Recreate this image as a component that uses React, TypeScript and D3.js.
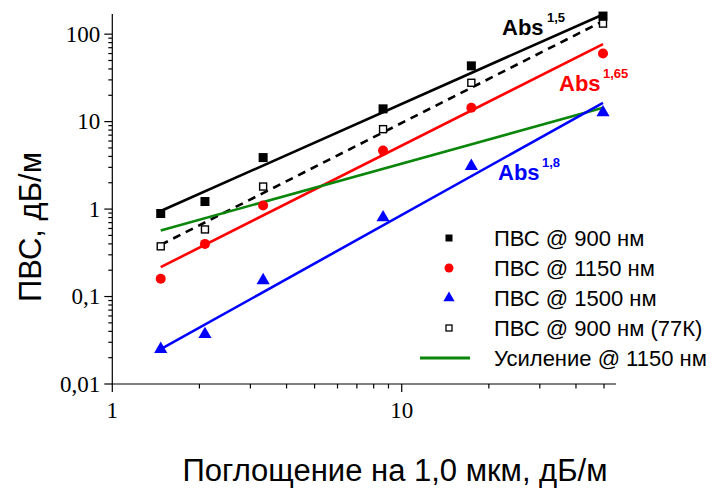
import React from "react";
import * as d3 from "d3";

const xAbs = [1.47, 2.09, 3.32, 8.62, 17.4, 49.6];
const pvs900 = [0.89, 1.22, 3.88, 14.0, 43.4, 161];
const pvs1150 = [0.16, 0.4, 1.1, 4.66, 14.4, 60];
const pvs1500 = [0.025, 0.037, 0.153, 0.8, 3.1, 12.7];
const pvs900_77K = [0.375, 0.585, 1.81, 8.2, 27.8, 132];

const fitX = [1.47, 49.6];
const fit900 = [0.95, 168];
const fit77K = [0.39, 141];
const fit1150 = [0.217, 77];
const fit1500 = [0.025, 16.4];
const gain1150 = [0.57, 14.4];

const yTicks = [0.01, 0.1, 1, 10, 100];
const yTickLabels = ["0,01", "0,1", "1", "10", "100"];
const xTicks = [1, 10];
const xTickLabels = ["1", "10"];

const legendLabels = [
  "ПВС @ 900 нм",
  "ПВС @ 1150 нм",
  "ПВС @ 1500 нм",
  "ПВС @ 900 нм (77К)",
  "Усиление @ 1150 нм",
];

const W = 717;
const H = 489;
const x = d3.scaleLog().domain([1, 55]).range([112.3, 616]);
const y = d3.scaleLog().domain([0.01, 170]).range([384, 14]);

const line = d3
  .line<[number, number]>()
  .x((d) => x(d[0]))
  .y((d) => y(d[1]));

const pairs = (ys: number[]) => fitX.map((v, i) => [v, ys[i]] as [number, number]);

const RED = "#ff0000";
const BLUE = "#0000ff";
const GREEN = "#0a860a";
const SANS = '"Liberation Sans", Arial, sans-serif';
const SERIF = '"Liberation Serif", "Times New Roman", "DejaVu Serif", serif';

function minorTicks(lo: number, hi: number) {
  const out: number[] = [];
  for (let e = Math.floor(Math.log10(lo)); e <= Math.ceil(Math.log10(hi)); e++) {
    for (let m = 2; m <= 9; m++) {
      const v = m * Math.pow(10, e);
      if (v > lo && v < hi) out.push(v);
    }
  }
  return out;
}

const tri = d3.symbol().type(d3.symbolTriangle);

export default function App() {
  const xDom = x.domain();
  const yDom = y.domain();
  return (
    <svg
      width={W}
      height={H}
      style={{ position: "absolute", left: 0, top: 0, background: "#fff" }}
    >
      <rect width={W} height={H} fill="#fff" />
      {/* axes */}
      <line x1={x(xDom[0])} x2={x(xDom[1])} y1={y(yDom[0])} y2={y(yDom[0])} stroke="#000" strokeWidth={1.2} />
      <line x1={x(xDom[0])} x2={x(xDom[0])} y1={y(yDom[0])} y2={y(yDom[1])} stroke="#000" strokeWidth={1.2} />
      <g style={{ fontFamily: SERIF }}>
        {xTicks.map((t, i) => (
          <g key={"xt" + t}>
            <line x1={x(t)} x2={x(t)} y1={y(yDom[0])} y2={y(yDom[0]) + 8} stroke="#000" strokeWidth={1.2} />
            <text x={x(t)} y={418} textAnchor="middle" fontSize={23}>
              {xTickLabels[i]}
            </text>
          </g>
        ))}
        {yTicks.map((t, i) => (
          <g key={"yt" + t}>
            <line x1={x(xDom[0]) - 8} x2={x(xDom[0])} y1={y(t)} y2={y(t)} stroke="#000" strokeWidth={1.2} />
            <text x={x(xDom[0]) - 12} y={y(t) + 7.5} textAnchor="end" fontSize={23}>
              {yTickLabels[i]}
            </text>
          </g>
        ))}
      </g>
      {minorTicks(xDom[0], xDom[1]).map((t) => (
        <line key={"xm" + t} x1={x(t)} x2={x(t)} y1={y(yDom[0])} y2={y(yDom[0]) + 4.5} stroke="#000" strokeWidth={1.2} />
      ))}
      {minorTicks(yDom[0], yDom[1]).map((t) => (
        <line key={"ym" + t} x1={x(xDom[0]) - 4} x2={x(xDom[0])} y1={y(t)} y2={y(t)} stroke="#000" strokeWidth={1.2} />
      ))}

      {/* fit lines */}
      <path d={line(pairs(fit900)) || ""} stroke="#000" strokeWidth={2.6} fill="none" />
      <path d={line(pairs(fit77K)) || ""} stroke="#000" strokeWidth={2.6} strokeDasharray="8,6" fill="none" />
      <path d={line(pairs(fit1150)) || ""} stroke={RED} strokeWidth={2.6} fill="none" />
      <path d={line(pairs(gain1150)) || ""} stroke={GREEN} strokeWidth={2.6} fill="none" />
      <path d={line(pairs(fit1500)) || ""} stroke={BLUE} strokeWidth={2.6} fill="none" />

      {/* points */}
      {xAbs.map((xv, i) => (
        <rect key={"b" + i} x={x(xv) - 4.5} y={y(pvs900[i]) - 4.5} width={9} height={9} fill="#000" />
      ))}
      {xAbs.map((xv, i) => (
        <rect key={"o" + i} x={x(xv) - 3.5} y={y(pvs900_77K[i]) - 3.5} width={7} height={7} fill="#fff" stroke="#000" strokeWidth={1.4} />
      ))}
      {xAbs.map((xv, i) => (
        <circle key={"r" + i} cx={x(xv)} cy={y(pvs1150[i])} r={5} fill={RED} />
      ))}
      {xAbs.map((xv, i) => (
        <path key={"t" + i} d={tri.size(75)() || ""} transform={`translate(${x(xv)},${y(pvs1500[i])})`} fill={BLUE} />
      ))}

      {/* annotations */}
      <g style={{ fontFamily: SANS }} fontWeight="bold">
        <text x={502} y={35} fontSize={22} fill="#000">Abs</text>
        <text x={547} y={22} fontSize={13} fill="#000">1,5</text>
        <text x={559} y={91} fontSize={22} fill={RED}>Abs</text>
        <text x={603} y={78} fontSize={13} fill={RED}>1,65</text>
        <text x={498} y={180} fontSize={22} fill={BLUE}>Abs</text>
        <text x={542} y={167} fontSize={13} fill={BLUE}>1,8</text>
      </g>

      {/* legend */}
      {legendLabels.map((lab, i) => {
        const ly = 238 + i * 30;
        return (
          <g key={"lg" + i}>
            {i === 0 && <rect x={449 - 3.5} y={ly - 3.5} width={7} height={7} fill="#000" />}
            {i === 1 && <circle cx={449} cy={ly} r={4.5} fill={RED} />}
            {i === 2 && <path d={tri.size(55)() || ""} transform={`translate(449,${ly})`} fill={BLUE} />}
            {i === 3 && <rect x={449 - 3} y={ly - 3} width={6} height={6} fill="#fff" stroke="#000" strokeWidth={1.3} />}
            {i === 4 && <line x1={420} x2={470} y1={ly} y2={ly} stroke={GREEN} strokeWidth={3} />}
            <text x={494} y={ly + 8} style={{ fontFamily: SANS }} fontSize={22} fill="#000">{lab}</text>
          </g>
        );
      })}

      {/* titles */}
      <text x={395} y={481} textAnchor="middle" style={{ fontFamily: SANS }} fontSize={31} fill="#000">
        Поглощение на 1,0 мкм, дБ/м
      </text>
      <text
        transform="translate(41,227) rotate(-90)"
        textAnchor="middle"
        style={{ fontFamily: SANS }}
        fontSize={31}
        fill="#000"
      >
        ПВС, дБ/м
      </text>
    </svg>
  );
}
